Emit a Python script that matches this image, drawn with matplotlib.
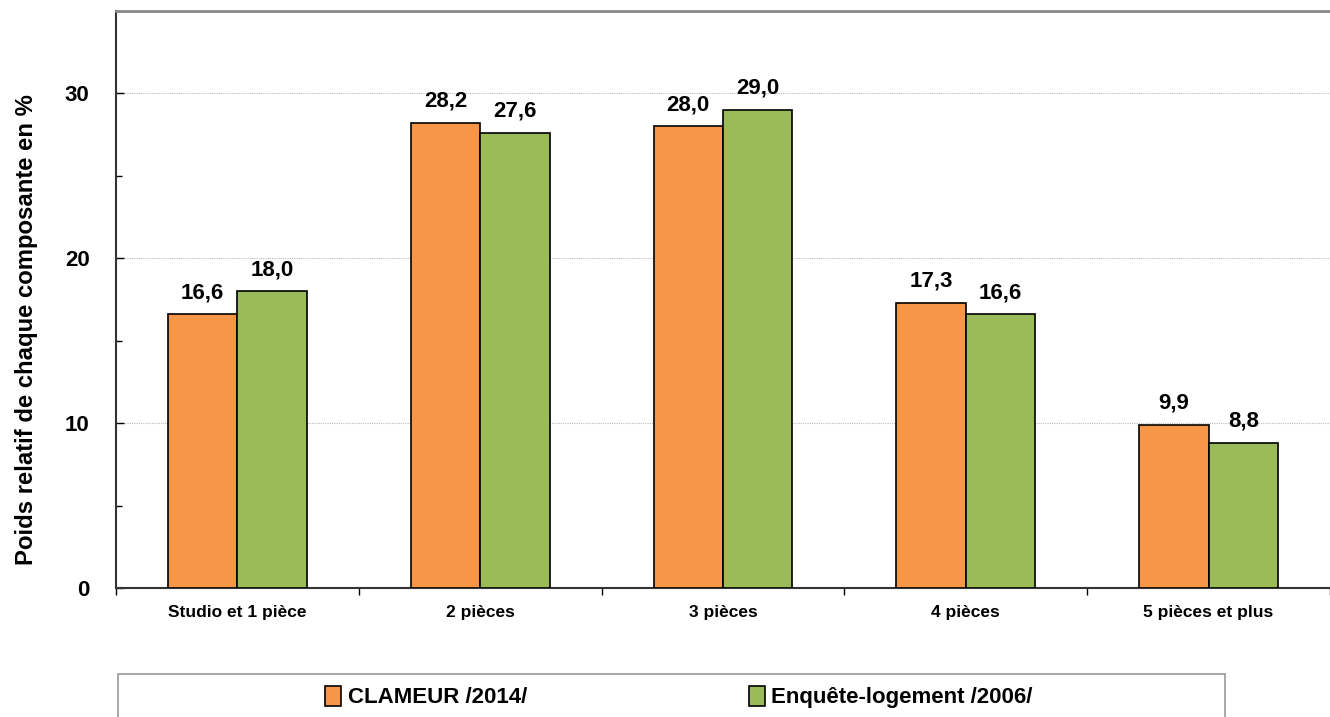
import matplotlib
matplotlib.use("Agg")
import matplotlib.pyplot as plt
import numpy as np
from matplotlib.patches import Rectangle, Patch
from matplotlib import font_manager

categories = ["Studio et 1 pièce", "2 pièces", "3 pièces", "4 pièces", "5 pièces et plus"]
series_names = ["CLAMEUR /2014/", "Enquête-logement /2006/"]
clameur = [16.6, 28.2, 28.0, 17.3, 9.9]
enquete = [18.0, 27.6, 29.0, 16.6, 8.8]
y_ticks = [0, 10, 20, 30]
y_label = "Poids relatif de chaque composante en %"

names = {f.name for f in font_manager.fontManager.ttflist}
narrow = "Liberation Sans Narrow" if "Liberation Sans Narrow" in names else "Liberation Sans"
plt.rcParams['font.family'] = [narrow, 'DejaVu Sans']
plt.rcParams['font.weight'] = 'bold'

W, H = 1330, 717
fig = plt.figure(figsize=(W / 100, H / 100), dpi=100)
left_px, right_px, bottom_px, top_px = 116, 1330, 588, 11
ax = fig.add_axes([left_px / W, (H - bottom_px) / H, (right_px - left_px) / W, (bottom_px - top_px) / H])

orange = "#F79646"
green = "#9BBB59"
x = np.arange(len(categories))
bw = 70 / 245
b1 = ax.bar(x - bw / 2, clameur, width=bw, color=orange, edgecolor="black", linewidth=1.2, zorder=3)
b2 = ax.bar(x + bw / 2, enquete, width=bw, color=green, edgecolor="black", linewidth=1.2, zorder=3)

for bars, vals in ((b1, clameur), (b2, enquete)):
    for r, v in zip(bars, vals):
        ax.annotate(f"{v:.1f}".replace(".", ","), (r.get_x() + r.get_width() / 2, v),
                    xytext=(0, 8), textcoords="offset points", ha="center", va="bottom",
                    fontsize=16, fontweight="bold", family=["Liberation Sans", "DejaVu Sans"])

ax.set_ylim(0, 35)
ax.set_xlim(-0.5, -0.5 + (right_px - left_px) / 245)
ax.set_yticks(y_ticks)
ax.set_yticks([5, 15, 25], minor=True)
ax.tick_params(axis='y', which='major', direction='in', length=6, width=1, pad=19, labelsize=16)
ax.tick_params(axis='y', which='minor', direction='in', length=4, width=1)
for lab in ax.get_yticklabels():
    lab.set_fontweight('bold')

ax.set_xticks(np.arange(len(categories) + 1) - 0.5)
ax.set_xticklabels([])
ax.set_xticks(x, minor=True)
ax.set_xticklabels(categories, minor=True, fontsize=12.5, fontweight='bold')
ax.tick_params(axis='x', which='major', direction='out', length=5, width=1)
ax.tick_params(axis='x', which='minor', length=0, pad=12)

ax.yaxis.grid(True, which='major', linestyle=(0, (1, 1)), color="#bbbbbb", linewidth=0.8, zorder=0)
ax.set_axisbelow(True)

ax.spines['right'].set_visible(False)
ax.spines['top'].set_color("#888888")
ax.spines['top'].set_linewidth(2)
ax.spines['left'].set_color("#333333")
ax.spines['left'].set_linewidth(1.5)
ax.spines['bottom'].set_color("#333333")
ax.spines['bottom'].set_linewidth(1.5)

fig.text(27 / W, (H - 330) / H, y_label, rotation=90, ha='center', va='center',
         fontsize=17.2, fontweight='bold')

fig.patches.append(Rectangle((118 / W, -0.05), (1225 - 118) / W, (H - 674) / H + 0.05,
                             transform=fig.transFigure, facecolor='white', edgecolor='#999999',
                             linewidth=1.2, zorder=0))
handles = [Patch(facecolor=orange, edgecolor='black', linewidth=1.2),
           Patch(facecolor=green, edgecolor='black', linewidth=1.2)]
fig.legend(handles, series_names, loc='center', bbox_to_anchor=(679 / W, (H - 697) / H),
           ncol=2, frameon=False, prop={'weight': 'bold', 'size': 16},
           handlelength=0.7, handleheight=1.0, handletextpad=0.3, columnspacing=10)

fig.savefig("out.png", dpi=100)
